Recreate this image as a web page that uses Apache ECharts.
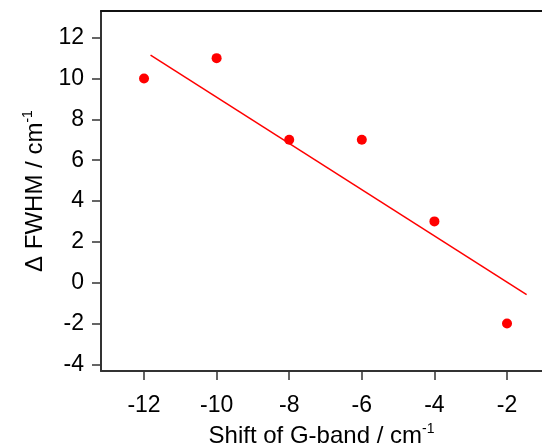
<!DOCTYPE html>
<html>
<head>
<meta charset="utf-8">
<script src="https://cdn.jsdelivr.net/npm/echarts@6/dist/echarts.min.js"></script>
<style>html,body{margin:0;padding:0;background:#fff}#c{width:542px;height:445px}</style>
</head>
<body>
<div id="c"></div>
<script>
const shiftX = [-12, -10, -8, -6, -4, -2];
const deltaFWHM = [10, 11, 7, 7, 3, -2];
const fitX = [-11.82, -1.46];
const fitY = [11.15, -0.59];
const xTicks = [-12, -10, -8, -6, -4, -2];
const yTicks = [-4, -2, 0, 2, 4, 6, 8, 10, 12];

const chart = echarts.init(document.getElementById('c'), null, {renderer: 'canvas'});
const font = 'Liberation Sans, Arial, sans-serif';
const axisCol = '#333';
const rich = {
  a: {fontFamily: font, fontSize: 24, color: '#000'},
  s: {fontFamily: font, fontSize: 14, color: '#000', verticalAlign: 'top', padding: [0,0,14,0]}
};
chart.setOption({
  animation: false,
  grid: {left: 101, right: 0, top: 11, bottom: 74, containLabel: false, outerBoundsMode: 'none'},
  xAxis: [{
    type: 'value', min: -13.185, max: -1.036, interval: 2,
    position: 'bottom',
    name: '{a|Shift of G-band / cm}{s|-1}',
    nameLocation: 'middle', nameGap: 46,
    nameTextStyle: {rich: rich},
    axisLine: {show: true, onZero: false, lineStyle: {color: axisCol, width: 2}},
    axisTick: {show: true, inside: false, length: 9, lineStyle: {color: axisCol, width: 1.5},
      customValues: xTicks},
    axisLabel: {fontFamily: font, fontSize: 23, color: '#000', margin: 23,
      customValues: xTicks, formatter: v => String(v)},
    splitLine: {show: false}
  }, {
    type: 'value', min: -13.185, max: -1.036, position: 'top',
    axisLine: {show: true, onZero: false, lineStyle: {color: '#111', width: 2}},
    axisTick: {show: false}, axisLabel: {show: false}, splitLine: {show: false}
  }],
  yAxis: {
    type: 'value', min: -4.33, max: 13.31,
    name: '{a|Δ FWHM / cm}{s|-1}',
    nameLocation: 'middle', nameGap: 50, nameRotate: 90,
    nameTextStyle: {rich: rich},
    axisLine: {show: true, onZero: false, lineStyle: {color: axisCol, width: 2}},
    axisTick: {show: true, inside: false, length: 9, lineStyle: {color: axisCol, width: 1.5},
      customValues: yTicks},
    axisLabel: {fontFamily: font, fontSize: 23, color: '#000', margin: 17,
      customValues: yTicks, formatter: v => String(v)},
    splitLine: {show: false}
  },
  series: [{
    type: 'scatter',
    data: shiftX.map((x, i) => [x, deltaFWHM[i]]),
    symbol: 'circle', symbolSize: 10,
    itemStyle: {color: '#ff0000', opacity: 1}
  }, {
    type: 'line',
    data: fitX.map((x, i) => [x, fitY[i]]),
    showSymbol: false, symbol: 'none',
    lineStyle: {color: '#ff0000', width: 1.5}
  }]
});
</script>
</body>
</html>
